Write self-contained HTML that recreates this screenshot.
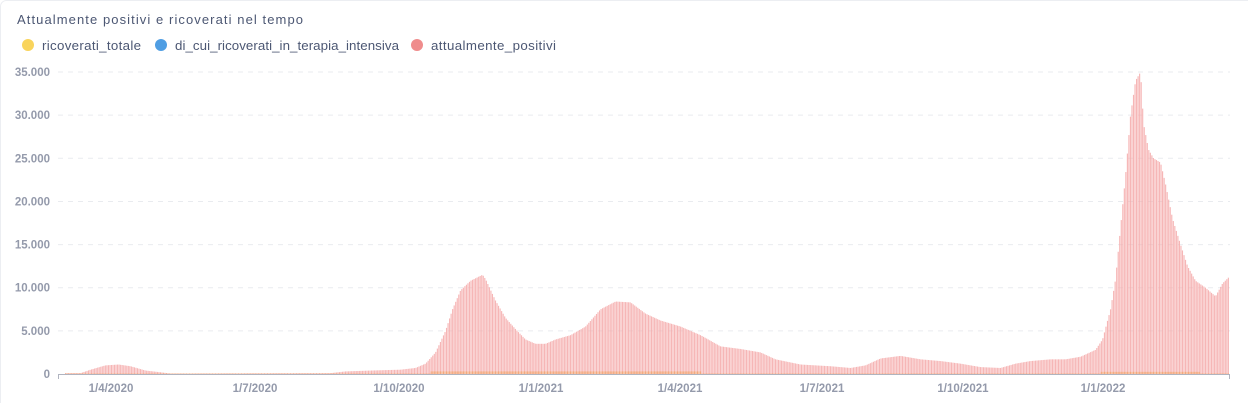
<!DOCTYPE html>
<html><head><meta charset="utf-8"><style>
body{margin:0;background:#fff;width:1248px;height:403px;overflow:hidden;font-family:"Liberation Sans",sans-serif}
</style></head><body>
<svg id="s" width="1248" height="403" xmlns="http://www.w3.org/2000/svg" font-family="Liberation Sans, sans-serif">
<rect x="0.5" y="0.5" width="1260" height="420" rx="6" fill="#fff" stroke="#eceef2"/>
<text x="17" y="24" font-size="13" fill="#4c5773" textLength="286">Attualmente positivi e ricoverati nel tempo</text>
<circle cx="28" cy="45" r="6" fill="#f9d45c"/><text x="42" y="50" font-size="13.3" fill="#4c5773" textLength="99">ricoverati_totale</text>
<circle cx="161" cy="45" r="6" fill="#509ee3"/><text x="175" y="50" font-size="13.3" fill="#4c5773" textLength="224">di_cui_ricoverati_in_terapia_intensiva</text>
<circle cx="417" cy="45" r="6" fill="#ef8c8c"/><text x="431" y="50" font-size="13.3" fill="#4c5773" textLength="125">attualmente_positivi</text>
<g font-size="11.5" font-weight="bold" fill="#949aab" text-anchor="end" id="yl"></g>
<g id="grid" stroke="#e9ebef" stroke-dasharray="5,5"></g>
<g id="bars"></g>
<g id="ob"></g>
<line x1="58" y1="374.5" x2="1230" y2="374.5" stroke="#b0b4c0"/>
<line x1="58.5" y1="374" x2="58.5" y2="379" stroke="#b0b4c0"/>
<line x1="1229.5" y1="374" x2="1229.5" y2="379" stroke="#b0b4c0"/>
<g font-size="11.5" font-weight="bold" fill="#949aab" text-anchor="middle">
<text x="111" y="392">1/4/2020</text><text x="255" y="392">1/7/2020</text><text x="399" y="392">1/10/2020</text><text x="541" y="392">1/1/2021</text><text x="680" y="392">1/4/2021</text><text x="822" y="392">1/7/2021</text><text x="963" y="392">1/10/2021</text><text x="1103" y="392">1/1/2022</text>
</g>
</svg>
<script>
var ns="http://www.w3.org/2000/svg";
function el(t,a,p){var e=document.createElementNS(ns,t);for(var k in a)e.setAttribute(k,a[k]);if(p)document.getElementById(p).appendChild(e);return e;}
var labs=["0","5.000","10.000","15.000","20.000","25.000","30.000","35.000"];
for(var i=0;i<8;i++){var y=374-i*43.14;var t=el("text",{x:50,y:y+4},"yl");t.textContent=labs[i];if(i>0)el("line",{x1:58,x2:1230,y1:y,y2:y},"grid");}
var k=[[65,100],[80,100],[90,500],[105,1000],[118,1100],[130,900],[145,400],[160,200],[170,50],[330,100],[345,300],[370,400],[400,500],[415,700],[425,1200],[435,2500],[445,5000],[452,7500],[460,9700],[470,10800],[482,11500],[485,11000],[495,8500],[505,6500],[515,5200],[525,4000],[535,3500],[545,3500],[555,4000],[570,4500],[585,5500],[600,7500],[615,8400],[630,8300],[645,7000],[660,6200],[680,5500],[700,4500],[720,3200],[740,2900],[760,2500],[775,1700],[800,1100],[830,900],[850,700],[865,1000],[880,1800],[900,2100],[920,1700],[940,1500],[960,1200],[980,800],[1000,700],[1015,1200],[1030,1500],[1050,1700],[1065,1700],[1080,2000],[1095,2800],[1102,4000],[1110,7500],[1115,11000],[1120,17000],[1125,23000],[1130,30000],[1135,34000],[1140,35000],[1143,29000],[1148,26000],[1153,25000],[1160,24500],[1165,22000],[1172,18000],[1180,15000],[1187,12500],[1195,10800],[1205,10000],[1215,9000],[1222,10500],[1229,11300]];
function f(x){for(var i=0;i<k.length-1;i++){if(x>=k[i][0]&&x<=k[i+1][0]){var t=(x-k[i][0])/(k[i+1][0]-k[i][0]);return k[i][1]+t*(k[i+1][1]-k[i][1]);}}return 0;}
var sc=302/35000;
for(var x=65;x<1229;x+=1.53){var v=f(x);var h=v*sc;el("rect",{x:x.toFixed(2),y:(374-h).toFixed(2),width:1.15,height:h.toFixed(2),fill:"#f5a9a9","fill-opacity":0.85},"bars");
var o=0;if(x>430&&x<700)o=300;else if(x>1100&&x<1200)o=250;else o=60;el("rect",{x:x.toFixed(2),y:(374-o*sc).toFixed(2),width:1.15,height:(o*sc).toFixed(2),fill:"#f2a86f","fill-opacity":0.8},"ob");}
</script>
</body></html>
